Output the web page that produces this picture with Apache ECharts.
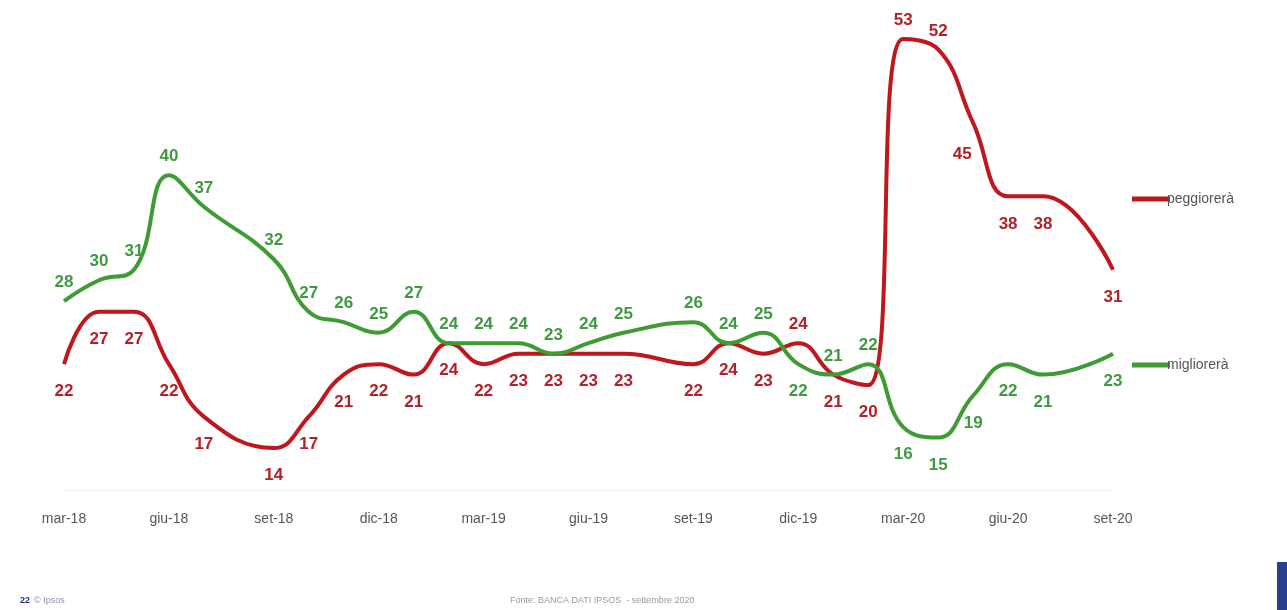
<!DOCTYPE html>
<html>
<head>
<meta charset="utf-8">
<script src="https://cdn.jsdelivr.net/npm/echarts@6/dist/echarts.min.js"></script>
<style>
html,body{margin:0;padding:0;background:#fff;}
#chart{width:1287px;height:610px;}
</style>
</head>
<body>
<div id="chart"></div>
<script>
const months = ['mar-18','apr-18','mag-18','giu-18','lug-18','ago-18','set-18','ott-18','nov-18','dic-18',
  'gen-19','feb-19','mar-19','apr-19','mag-19','giu-19','lug-19','ago-19','set-19','ott-19','nov-19','dic-19',
  'gen-20','feb-20','mar-20','apr-20','mag-20','giu-20','lug-20','ago-20','set-20'];
const peggiorera = [22,27,27,22,17,null,14,17,21,22,21,24,22,23,23,23,23,null,22,24,23,24,21,20,53,52,45,38,38,null,31];
const migliorera = [28,30,31,40,37,null,32,27,26,25,27,24,24,24,23,24,25,null,26,24,25,22,21,22,16,15,19,22,21,null,23];
const seriesNames = ['peggiorerà','migliorerà'];

// label placement overrides (index -> position)
const redPos = {21:'top',24:'top',25:'top'};
const greenPos = {21:'bottom',24:'bottom',25:'bottom',26:'bottom',27:'bottom',28:'bottom',30:'bottom'};
const labelShift = {26:[-11,4]};

function build(values, def, over, shift){
  return values.map((v,i)=>{
    if(v===null) return null;
    const p = over[i] || def;
    const lab = {position:p, distance: p==='bottom' ? 19 : 10};
    if(shift && shift[i]) lab.offset = shift[i];
    return {value:v, label:lab};
  });
}

const RED='#c0161d', GREEN='#3f9c35';
const FONT='Liberation Sans, Arial, sans-serif';
const chart = echarts.init(document.getElementById('chart'));
chart.setOption({
  animation:false,
  backgroundColor:'#fff',
  grid:{left:64,right:174,top:18,bottom:120},
  legend:{
    orient:'vertical', left:1127, top:187, itemGap:152,
    itemWidth:38, itemHeight:5, icon:'rect',
    textStyle:{color:'#555',fontSize:14,fontFamily:FONT,padding:[0,0,0,-8]},
    data:seriesNames
  },
  xAxis:{
    type:'category', data:months, boundaryGap:false,
    axisLine:{show:true,lineStyle:{color:'#eeeeee',width:1}},
    axisTick:{show:false},
    axisLabel:{interval:2,color:'#555',fontSize:14,margin:22,fontFamily:FONT},
    splitLine:{show:false}
  },
  yAxis:{type:'value',min:10,max:55,show:false,splitLine:{show:false}},
  series:[
    {name:seriesNames[0],type:'line',data:build(peggiorera,'bottom',redPos,labelShift),smooth:0.45,connectNulls:true,
     symbol:'circle',symbolSize:0.1,showSymbol:true,
     lineStyle:{color:RED,width:4},itemStyle:{color:RED},
     label:{show:true,color:'#b32028',fontSize:17,fontWeight:'bold',fontFamily:FONT}},
    {name:seriesNames[1],type:'line',data:build(migliorera,'top',greenPos,null),smooth:0.45,connectNulls:true,
     symbol:'circle',symbolSize:0.1,showSymbol:true,
     lineStyle:{color:GREEN,width:4},itemStyle:{color:GREEN},
     label:{show:true,color:'#3f9a3f',fontSize:17,fontWeight:'bold',fontFamily:FONT}}
  ],
  graphic:[
    {type:'text',left:20,top:596,style:{text:'22',fill:'#1f3566',font:'bold 9px Liberation Sans, Arial, sans-serif'}},
    {type:'text',left:34,top:596,style:{text:'© Ipsos',fill:'#8a93a8',font:'9px Liberation Sans, Arial, sans-serif'}},
    {type:'text',left:510,top:596,style:{text:'Fonte: BANCA DATI IPSOS  - settembre 2020',fill:'#9a9a9a',font:'9px Liberation Sans, Arial, sans-serif'}},
    {type:'rect',shape:{x:1277,y:562,width:10,height:48},style:{fill:'#2a3f8f'}}
  ]
});
</script>
</body>
</html>
